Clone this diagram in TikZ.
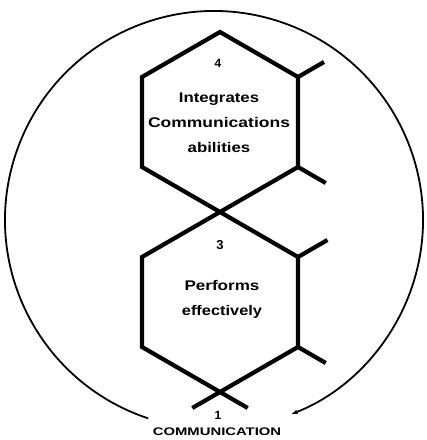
\documentclass[tikz,border=0pt]{standalone}
\usepackage{fontspec}
\setmainfont{Liberation Sans}
\usetikzlibrary{arrows.meta}
\newcommand{\wideline}[2][1.2]{\scalebox{#1}[1]{#2}}
\tikzset{
  ring/.style={line width=1.8pt, line cap=round},
  hexline/.style={line width=4.2pt, line join=miter, line cap=butt},
  spoke/.style={line width=4.2pt, line cap=butt},
  label/.style={font=\bfseries\fontsize{14}{25}\selectfont, align=center, inner sep=0pt},
  numlabel/.style={font=\bfseries\fontsize{12}{14}\selectfont, inner sep=0pt},
}
\begin{document}
\begin{tikzpicture}[x=1pt,y=1pt]
\useasboundingbox (0,0) rectangle (427,440);
% circle (open at the bottom)
\coordinate (cc) at (214,220);
\draw[ring, -{Latex[length=7pt,width=4.5pt]}] (cc) ++(251.5:209) arc[start angle=251.5, end angle=-68.5, radius=209];
% top hexagon
\coordinate (h4t) at (220,408);
\coordinate (h4ur) at (298,363);
\coordinate (h4lr) at (298,273);
\coordinate (h4b) at (220,228);
\coordinate (h4ll) at (142,273);
\coordinate (h4ul) at (142,363);
% bottom hexagon
\coordinate (h3t) at (220,228);
\coordinate (h3ur) at (298,183);
\coordinate (h3lr) at (298,93);
\coordinate (h3b) at (220,48);
\coordinate (h3ll) at (142,93);
\coordinate (h3ul) at (142,183);
\draw[hexline] (h4t) -- (h4ur) -- (h4lr) -- (h4b) -- (h4ll) -- (h4ul) -- cycle;
\draw[hexline] (h3t) -- (h3ur) -- (h3lr) -- (h3b) -- (h3ll) -- (h3ul) -- cycle;
% spokes
\draw[spoke] (h4ur) -- ++(30:30) coordinate (s4a);
\draw[spoke] (h4lr) -- ++(-30:32) coordinate (s4b);
\draw[spoke] (h3ur) -- ++(30:34) coordinate (s3a);
\draw[spoke] (h3lr) -- ++(-30:32) coordinate (s3b);
\draw[spoke] (h3b) -- ++(-30:32) coordinate (x1);
\draw[spoke] (h3b) -- ++(210:32) coordinate (x2);
% texts
\node[numlabel] (n4) at (218,377) {4};
\node[label] (t4) at (219,317) {\wideline{Integrates}\\\wideline[1.25]{Communications}\\\wideline{abilities}};
\node[numlabel, font=\bfseries\fontsize{13}{14}\selectfont] (n3) at (220,195) {3};
\node[label] (t3) at (222,140.5) {\wideline[1.22]{Performs}\\\wideline[1.17]{effectively}};
\node[numlabel] (n1) at (218,25) {1};
\node[font=\bfseries\fontsize{11}{12}\selectfont, inner sep=0pt] (comm) at (217,8) {\wideline[1.35]{COMMUNICATION}};
\end{tikzpicture}
\end{document}
